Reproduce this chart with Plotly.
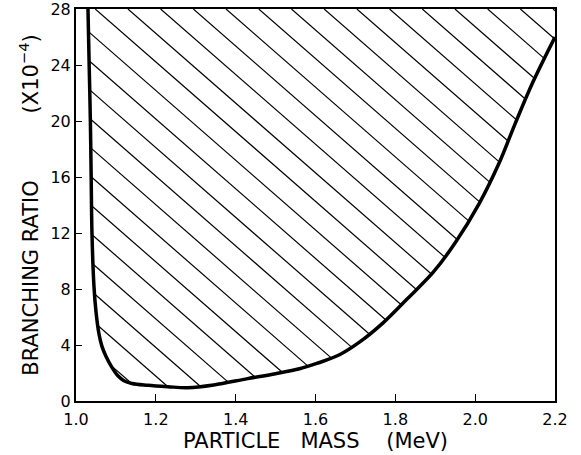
import numpy as np
import plotly.graph_objects as go

# Data
mass = [1.030, 1.033, 1.036, 1.038, 1.040, 1.045, 1.050, 1.0575, 1.065, 1.075,
        1.090, 1.105, 1.120, 1.140, 1.180, 1.230, 1.280, 1.345, 1.430, 1.500,
        1.560, 1.605, 1.660, 1.710, 1.770, 1.830, 1.895, 1.950, 2.010, 2.060,
        2.100, 2.145, 2.200]
ratio = [28.0, 24.0, 20.0, 16.0, 12.0, 8.2, 6.4, 4.8, 3.9, 3.2,
         2.4, 1.8, 1.45, 1.25, 1.12, 1.02, 0.95, 1.15, 1.6, 1.95,
         2.3, 2.7, 3.3, 4.2, 5.6, 7.3, 9.2, 11.3, 14.1, 17.0,
         19.8, 22.8, 26.0]

x_ticks = [1.0, 1.2, 1.4, 1.6, 1.8, 2.0, 2.2]
x_tick_labels = ["1.0", "1.2", "1.4", "1.6", "1.8", "2.0", "2.2"]
y_ticks = [0, 4, 8, 12, 16, 20, 24, 28]
y_tick_labels = ["0", "4", "8", "12", "16", "20", "24", "28"]

X_RANGE = [1.0, 2.2]
Y_RANGE = [0, 28]

# hatch style (in data units): slope and vertical spacing of the hatch lines
HATCH_SLOPE = -24.9
HATCH_STEP = 2.04
HATCH_REF = (1.1875, 26.57)

FONT = "DejaVu Sans"
NB = "\u00a0"

# hatch segments clipped to the excluded region above the curve
xs = np.linspace(X_RANGE[0], X_RANGE[1], 9601)
curve_on_grid = np.interp(xs, mass, ratio)
hx, hy = [], []
for k in range(-40, 40):
    yl = HATCH_REF[1] + HATCH_SLOPE * (xs - HATCH_REF[0]) - k * HATCH_STEP
    inside = (xs >= mass[0]) & (yl >= curve_on_grid) & (yl <= Y_RANGE[1])
    idx = np.nonzero(inside)[0]
    if len(idx) < 2:
        continue
    i0, i1 = idx[0], idx[-1]
    hx += [float(xs[i0]), float(xs[i1]), None]
    hy += [float(yl[i0]), float(yl[i1]), None]

fig = go.Figure()

fig.add_trace(go.Scatter(
    x=hx, y=hy, mode="lines",
    line=dict(color="black", width=1.2),
    hoverinfo="skip", showlegend=False,
))

# limit curve
fig.add_trace(go.Scatter(
    x=mass, y=ratio,
    mode="lines",
    line=dict(color="black", width=3.5, shape="spline", smoothing=1.0),
    showlegend=False,
))

fig.update_layout(
    width=581, height=455,
    margin=dict(l=76, r=26, t=9, b=54),
    paper_bgcolor="white",
    plot_bgcolor="white",
    font=dict(family=FONT, color="black", size=15),
    showlegend=False,
)

fig.update_xaxes(
    range=X_RANGE, automargin=False,
    tickvals=x_ticks, ticktext=x_tick_labels,
    ticks="inside", ticklen=7, tickwidth=1, tickcolor="black",
    showline=True, linewidth=2, linecolor="black", mirror=True,
    showgrid=False, zeroline=False, ticklabeloverflow="allow",
    ticklabelstandoff=3,
    tickfont=dict(family=FONT, size=16),
    title=dict(text="PARTICLE" + NB * 3 + "MASS" + NB * 4 + "(MeV)",
               font=dict(family=FONT, size=21), standoff=1),
)
fig.update_yaxes(
    range=Y_RANGE, automargin=False,
    tickvals=y_ticks, ticktext=y_tick_labels,
    ticks="inside", ticklen=6, tickwidth=1, tickcolor="black",
    showline=True, linewidth=2, linecolor="black", mirror=True,
    showgrid=False, zeroline=False, ticklabeloverflow="allow",
    tickfont=dict(family=FONT, size=16),
    title=dict(text="BRANCHING" + NB + "RATIO" + NB * 10 + "(X10<sup>−4</sup>)",
               font=dict(family=FONT, size=21), standoff=6),
)

fig.write_html("out.html", config={"displayModeBar": False},
               post_script="document.body.style.margin='0';")
